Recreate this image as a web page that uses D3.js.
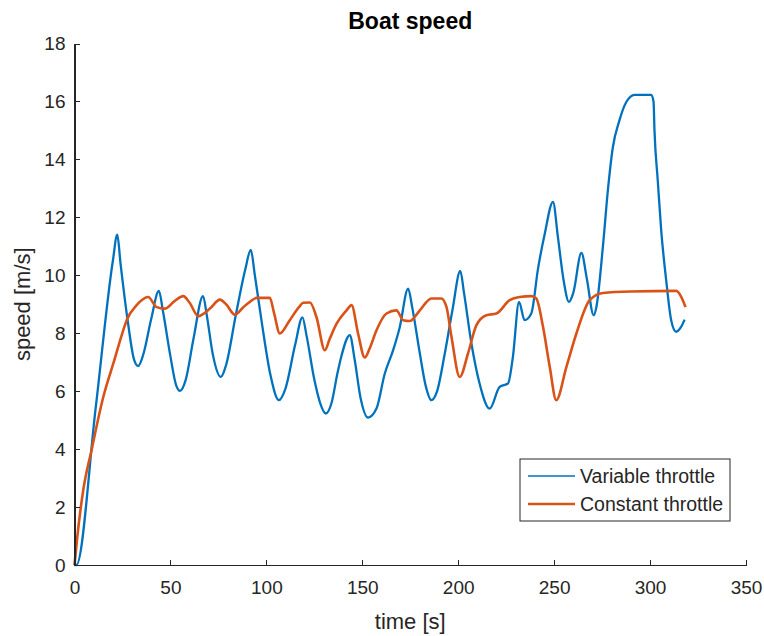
<!DOCTYPE html>
<meta charset="utf-8">
<style>
body { margin: 0; background: #fff; }
svg { font-family: "Liberation Sans", Arial, Helvetica, sans-serif; }
.axis path, .axis line { stroke: #262626; shape-rendering: crispEdges; }
.axis text { fill: #262626; font-size: 19px; }
</style>
<svg width="764" height="636"></svg>
<script src="https://d3js.org/d3.v7.min.js"></script>
<script>
// values
var xTicks = [0, 50, 100, 150, 200, 250, 300, 350];
var yTicks = [0, 2, 4, 6, 8, 10, 12, 14, 16, 18];
var seriesNames = ["Variable throttle", "Constant throttle"];

var varTime = [0, 1, 11, 20, 22.3, 24, 28, 31, 33.2, 36, 40, 44, 46, 50, 53, 55, 58, 62, 67, 69, 72, 76.3,
  79, 84, 89, 91.9, 94, 98, 102, 106.5, 110, 115, 118.8, 121, 125, 128, 131, 134, 137, 139, 143.5,
  146, 149, 153, 157.4, 161.7, 166, 169.5, 173.9, 176, 180, 183, 186, 189, 193, 197, 201.1, 203, 207,
  211, 216.4, 221.6, 226, 228.5, 231.7, 234.6, 238.1, 241.6, 245, 249.4, 252, 255, 257.7, 260, 264.2,
  267, 270.6, 272, 275.4, 278, 280.6, 284, 287.6, 291.9, 300.6, 301.8, 302.3, 304, 305.8, 308.4, 311,
  313.6, 316, 318];
var varSpeed = [0, 0, 5.4, 10.5, 11.4, 10.4, 8.3, 7.1, 6.87, 7.3, 8.5, 9.46, 8.8, 7.2, 6.2, 6.01, 6.4, 7.8, 9.28, 8.6, 7.3, 6.49,
  6.9, 8.6, 10.2, 10.88, 10.0, 8.2, 6.6, 5.69, 6.1, 7.6, 8.55, 7.9, 6.4, 5.6, 5.23, 5.6, 6.6, 7.18, 7.93,
  7.1, 5.8, 5.09, 5.4, 6.6, 7.4, 8.2, 9.54, 8.9, 7.3, 6.2, 5.69, 6.0, 7.3, 8.8, 10.15, 9.4, 7.6,
  6.3, 5.4, 6.15, 6.27, 7.18, 9.08, 8.45, 8.68, 10.23, 11.4, 12.53, 11.3, 9.8, 9.08, 9.4, 10.77,
  9.9, 8.62, 8.9, 10.98, 12.93, 14.42, 15.34, 15.98, 16.23, 16.23, 16.0, 15.0, 13.28, 11.55, 9.83, 8.45,
  8.05, 8.2, 8.47];

var constTime = [0, 1.5, 4.6, 8.9, 15, 20.2, 25.4, 27.2, 32.4, 38.4, 42.8, 47.1, 52, 56.7, 60, 64.5, 70.6,
  75.8, 79, 83.6, 88, 91.4, 94.9, 101.8, 104, 107, 112.2, 117, 119.2, 122.7, 126.1, 130.5, 133, 136.6,
  141.8, 144.4, 147.8, 151.3, 154, 157.4, 162.6, 167.8, 171.3, 174.7, 180, 186, 191.2, 193.9, 196.5,
  200.8, 205.1, 209.5, 214.7, 219.9, 226.8, 232, 238.1, 240.7, 244.2, 247.7, 251.1, 256.4, 261.6,
  268.5, 275.4, 290, 313.6, 316.3, 318.5];
var constSpeed = [0, 1.0, 2.6, 3.97, 5.8, 6.95, 8.1, 8.45, 8.97, 9.25, 8.9, 8.85, 9.1, 9.28, 9.05, 8.59, 8.85,
  9.16, 9.0, 8.64, 8.9, 9.08, 9.22, 9.22, 8.7, 7.99, 8.45, 8.9, 9.05, 9.06, 8.56, 7.41, 7.8, 8.33,
  8.79, 8.97, 7.99, 7.16, 7.5, 8.1, 8.68, 8.79, 8.45, 8.42, 8.79, 9.2, 9.2, 8.9, 7.87,
  6.49, 7.3, 8.28, 8.62, 8.68, 9.14, 9.25, 9.28, 9.2, 8.22, 6.84, 5.69, 6.84, 7.99,
  9.14, 9.39, 9.44, 9.46, 9.25, 8.9];

var colors = ["#0072BD", "#D95319"];
var widths = [2.3, 2.6];
var legendWidths = [1.7, 2.7];

var svg = d3.select("svg");
var margin = {left: 74.5, right: 18, top: 43.5, bottom: 71};
var width = 764 - margin.left - margin.right;
var height = 636 - margin.top - margin.bottom;

var g = svg.append("g")
    .attr("transform", "translate(" + margin.left + "," + margin.top + ")");

var x = d3.scaleLinear().domain([0, 350]).range([0, width]);
var y = d3.scaleLinear().domain([0, 18]).range([height, 0]);

var series = [
  d3.zip(varTime, varSpeed),
  d3.zip(constTime, constSpeed)
];

var line = d3.line()
    .x(function(d) { return x(d[0]); })
    .y(function(d) { return y(d[1]); })
    .curve(d3.curveMonotoneX);

g.selectAll(".series")
    .data(series)
    .enter().append("path")
        .attr("class", "series")
        .attr("fill", "none")
        .attr("stroke", function(d, i) { return colors[i]; })
        .attr("stroke-width", function(d, i) { return widths[i]; })
        .attr("stroke-linejoin", "round")
        .attr("d", line);

// axes on top, ticks pointing in
g.append("g")
    .attr("class", "axis")
    .attr("transform", "translate(0," + height + ")")
    .call(d3.axisBottom(x).tickValues(xTicks).tickSizeInner(-5).tickSizeOuter(0).tickPadding(16))
    .call(function(a) { a.select(".domain").attr("stroke-width", 1.3); });

g.append("g")
    .attr("class", "axis")
    .call(d3.axisLeft(y).tickValues(yTicks).tickSizeInner(-5).tickSizeOuter(0).tickPadding(9))
    .call(function(a) { a.select(".domain").attr("stroke-width", 1.3); });

// title and labels
svg.append("text")
    .attr("x", margin.left + width / 2)
    .attr("y", 29)
    .attr("text-anchor", "middle")
    .attr("font-weight", "bold")
    .attr("font-size", "23px")
    .attr("fill", "#000")
    .text("Boat speed");

svg.append("text")
    .attr("x", margin.left + width / 2)
    .attr("y", 629)
    .attr("text-anchor", "middle")
    .attr("font-size", "22px")
    .attr("fill", "#262626")
    .text("time [s]");

svg.append("text")
    .attr("transform", "translate(30," + (margin.top + height / 2) + ") rotate(-90)")
    .attr("text-anchor", "middle")
    .attr("font-size", "22px")
    .attr("fill", "#262626")
    .text("speed [m/s]");

// legend
var legend = svg.append("g").attr("transform", "translate(520,459)");
legend.append("rect")
    .attr("width", 210)
    .attr("height", 62)
    .attr("fill", "#fff")
    .attr("stroke", "#262626")
    .attr("stroke-width", 1);

var item = legend.selectAll(".item")
    .data(seriesNames)
    .enter().append("g")
        .attr("class", "item")
        .attr("transform", function(d, i) { return "translate(0," + (17 + i * 28) + ")"; });

item.append("line")
    .attr("x1", 8).attr("x2", 55)
    .attr("stroke", function(d, i) { return colors[i]; })
    .attr("stroke-width", function(d, i) { return legendWidths[i]; });

item.append("text")
    .attr("x", 60)
    .attr("dy", "0.35em")
    .attr("font-size", "19.5px")
    .attr("fill", "#262626")
    .text(function(d) { return d; });
</script>
